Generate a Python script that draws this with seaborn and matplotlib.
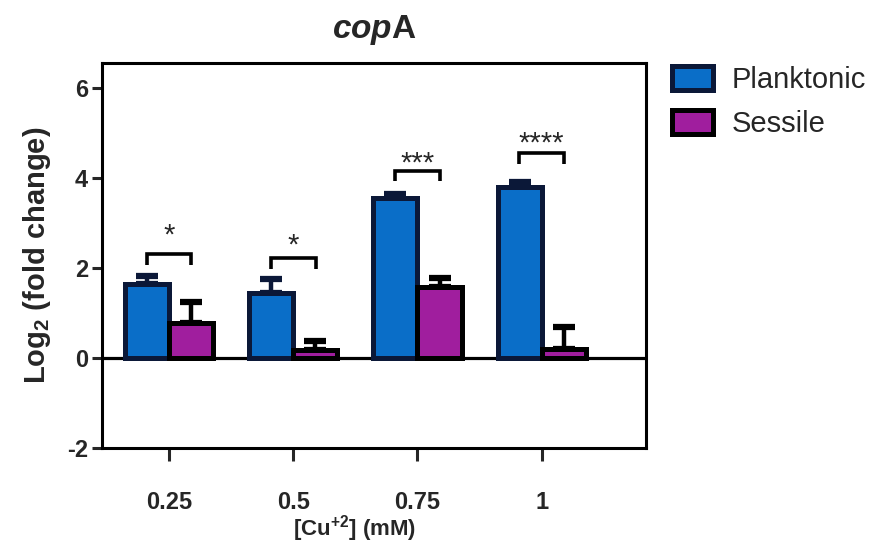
import numpy as np
import pandas as pd
import seaborn as sns
import matplotlib
matplotlib.use('Agg')
from matplotlib import pyplot as plt

# valores
conc = ['0.25', '0.5', '0.75', '1']
planktonic = [1.65, 1.44, 3.55, 3.80]
planktonic_err = [0.18, 0.32, 0.08, 0.11]
sessile = [0.78, 0.18, 1.58, 0.20]
sessile_err = [0.46, 0.20, 0.20, 0.49]
stars = ['*', '*', '***', '****']
bracket_top = [2.31, 2.22, 4.16, 4.55]
star_y = [2.90, 2.67, 4.50, 4.95]

blue = '#0A6EC8'
navy = '#0B1838'
purple = '#A01E9E'

sns.set_style('ticks')
plt.rcParams['font.family'] = ['Liberation Sans', 'DejaVu Sans']
plt.rcParams['mathtext.fontset'] = 'custom'
plt.rcParams['mathtext.rm'] = 'Liberation Sans:bold'
plt.rcParams['mathtext.it'] = 'Liberation Sans:italic:bold'

df = pd.DataFrame({
    'conc': conc * 2,
    'value': planktonic + sessile,
    'group': ['Planktonic'] * 4 + ['Sessile'] * 4,
})

fig = plt.figure(figsize=(8.73, 5.51), dpi=100)
ax = fig.add_axes([0.1168, 0.187, 0.740 - 0.1168, 0.8857 - 0.187])

ax.axhline(0, color='black', lw=2.3, zorder=1)
sns.barplot(data=df, x='conc', y='value', hue='group', order=conc,
            hue_order=['Planktonic', 'Sessile'], palette=[blue, purple],
            width=0.71, errorbar=None, linewidth=3.6, saturation=1, ax=ax, zorder=2)

edge_cols = [navy, 'black']
# bordes y barras de error
for cont, col, err in zip(ax.containers, edge_cols, [planktonic_err, sessile_err]):
    xs = []
    ys = []
    for bar in cont:
        bar.set_edgecolor(col)
        xs.append(bar.get_x() + bar.get_width() / 2)
        ys.append(bar.get_height())
    ax.errorbar(xs, ys, yerr=[np.zeros(len(err)), err], fmt='none', ecolor=col,
                elinewidth=3.2, capsize=8, capthick=4.5, zorder=1.5)

# corchetes de significancia
for i in range(len(conc)):
    x0, x1 = i - 0.18, i + 0.18
    top = bracket_top[i]
    ax.plot([x0, x0, x1, x1], [top - 0.24, top, top, top - 0.24], color='black',
            lw=2.6, solid_capstyle='butt', solid_joinstyle='miter')
    ax.text(i, star_y[i] - 0.36, stars[i], ha='center', va='baseline', fontsize=21)

ax.set_xlim(-0.54, 3.84)
ax.set_ylim(-2, 6.55)
ax.set_yticks([-2, 0, 2, 4, 6])
ax.set_yticklabels(['-2', '0', '2', '4', '6'])
ax.set_xticks(range(len(conc)))
ax.set_xticklabels(conc)
for lab in ax.get_xticklabels() + ax.get_yticklabels():
    lab.set_fontweight('bold')
    lab.set_fontsize(17)

for sp in ax.spines.values():
    sp.set_visible(True)
    sp.set_linewidth(2.2)
    sp.set_color('black')
ax.tick_params(axis='y', length=7, width=2.2, pad=3)
ax.tick_params(axis='x', length=9, width=2.2, pad=22)

ax.set_ylabel(r'Log$_{\mathrm{2}}$ (fold change)', fontsize=21, fontweight='bold', labelpad=10)
ax.set_xlabel(r'[Cu$^{\mathrm{+2}}$] (mM)', fontsize=16, fontweight='bold')
ax.xaxis.set_label_coords(0.465, -0.17)
ax.set_title(r'$\mathit{cop}$A', fontsize=24, fontweight='bold', pad=18)

handles, labels = ax.get_legend_handles_labels()
leg = ax.legend(handles, labels, loc='upper left', bbox_to_anchor=(672 / 873, 1 - 66 / 551),
                bbox_transform=fig.transFigure, frameon=False, fontsize=21,
                handlelength=1.4, handleheight=0.9, handletextpad=0.65,
                labelspacing=0.55, borderpad=0, borderaxespad=0)
for h, col in zip(leg.legend_handles, edge_cols):
    h.set_edgecolor(col)
    h.set_linewidth(3.6)

fig.savefig('out.png', dpi=100)
